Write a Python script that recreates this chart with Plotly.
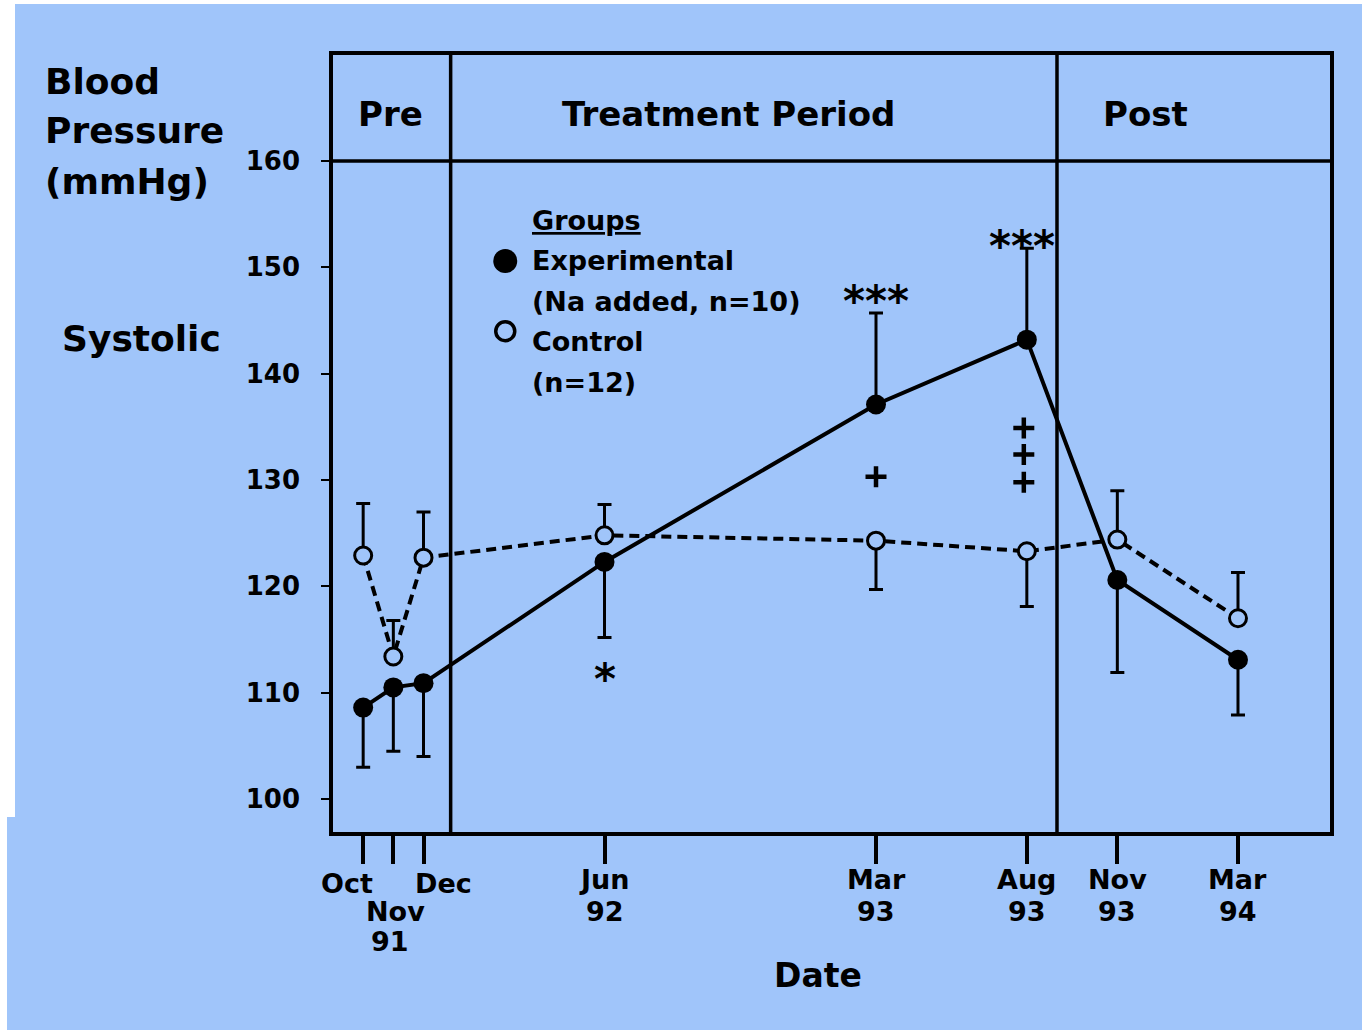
import plotly.graph_objects as go

BG = "rgb(160,197,250)"
FONT = "DejaVu Sans"
INK = "black"

# Time axis: months since October 1991
months = [0, 1, 2, 8, 17, 22, 25, 29]
tick_month = ["Oct", "Nov", "Dec", "Jun", "Mar", "Aug", "Nov", "Mar"]
tick_year = ["", "91", "", "92", "93", "93", "93", "94"]

# Systolic blood pressure (mmHg), group means and one-sided error bars
exp_mean = [108.6, 110.5, 110.9, 122.3, 137.1, 143.2, 120.6, 113.1]
exp_err_plus = [0, 0, 0, 0, 8.6, 8.6, 0, 0]
exp_err_minus = [5.6, 6.0, 6.9, 7.1, 0, 0, 8.7, 5.2]

ctl_mean = [122.9, 113.4, 122.7, 124.8, 124.3, 123.3, 124.4, 117.0]
ctl_err_plus = [4.9, 3.4, 4.3, 2.9, 0, 0, 4.6, 4.3]
ctl_err_minus = [0, 0, 0, 0, 4.6, 5.2, 0, 0]

# Study periods
period_names = ["Pre", "Treatment Period", "Post"]
period_label_x = [0.9, 12.1, 25.95]
period_bounds = [2.9, 23.0]

# Significance: asterisks (between groups) and plus signs (vs baseline)
star_x = [8, 17, 21.85]
star_y = [112.1, 147.6, 152.8]
star_text = ["*", "***", "***"]
plus_x = [17, 21.9, 21.9, 21.9]
plus_y = [130.3, 134.9, 132.4, 129.8]

X_RANGE = [-1.0, 32.05]
Y_RANGE = [96.9, 169.97]
HEADER_Y = 160

fig = go.Figure()

fig.add_trace(go.Scatter(
    x=months, y=ctl_mean, mode="lines+markers", name="Control",
    line=dict(color=INK, width=4, dash="10px,6px"),
    marker=dict(symbol="circle", size=17, color=BG, line=dict(color=INK, width=3)),
    error_y=dict(type="data", symmetric=False, array=ctl_err_plus,
                 arrayminus=ctl_err_minus, color=INK, thickness=3, width=7),
))

fig.add_trace(go.Scatter(
    x=months, y=exp_mean, mode="lines+markers", name="Experimental",
    line=dict(color=INK, width=4),
    marker=dict(symbol="circle", size=20, color=INK),
    error_y=dict(type="data", symmetric=False, array=exp_err_plus,
                 arrayminus=exp_err_minus, color=INK, thickness=3, width=7),
))

fig.add_trace(go.Scatter(
    x=plus_x, y=plus_y, mode="markers", hoverinfo="skip",
    marker=dict(symbol="cross-thin", size=15, color=INK, line=dict(color=INK, width=4.5)),
))

# Legend symbols drawn inside the plot
fig.add_trace(go.Scatter(
    x=[4.71], y=[150.6], mode="markers", hoverinfo="skip",
    marker=dict(symbol="circle", size=24, color=INK),
))
fig.add_trace(go.Scatter(
    x=[4.71], y=[144.0], mode="markers", hoverinfo="skip",
    marker=dict(symbol="circle", size=19, color=BG, line=dict(color=INK, width=3.5)),
))

ann = []

def txt(x, y, text, size, xanchor="center", yanchor="middle", xref="x", yref="y",
        xshift=0, yshift=0):
    ann.append(dict(x=x, y=y, xref=xref, yref=yref, text=f"<b>{text}</b>",
                    showarrow=False, xanchor=xanchor, yanchor=yanchor,
                    xshift=xshift, yshift=yshift,
                    font=dict(family=FONT, size=size, color=INK)))

# Legend text
legend_lines = [("<u>Groups</u>", 154.4), ("Experimental", 150.6),
                ("(Na added, n=10)", 146.8), ("Control", 143.0), ("(n=12)", 139.2)]
for t, yv in legend_lines:
    txt(5.53, yv, t, 27, xanchor="left")

# Period headers
for name, xv in zip(period_names, period_label_x):
    txt(xv, 164.4, name, 34)

# Asterisks
for xv, yv, t in zip(star_x, star_y, star_text):
    txt(xv, yv, t, 42, yshift=-9)

# Date tick labels (staggered for the closely spaced 1991 visits)
def py(p):
    return (832 - p) / 777

for i, (m, mon, yr) in enumerate(zip(months, tick_month, tick_year)):
    if i == 0:
        txt(m, py(883), mon, 27, yref="paper", xshift=-16)
    elif i == 1:
        txt(m, py(911), mon, 27, yref="paper", xshift=2)
        txt(m, py(941), yr, 27, yref="paper", xshift=-3)
    elif i == 2:
        txt(m, py(883), mon, 27, yref="paper", xshift=20)
    else:
        txt(m, py(879), mon, 27, yref="paper")
        txt(m, py(911), yr, 27, yref="paper")

# Axis titles
txt((818 - 333) / 997, py(975), "Date", 33, xref="paper", yref="paper")
px = lambda p: (p - 333) / 997
txt(px(43), py(81), "Blood", 36, xanchor="left", xref="paper", yref="paper")
txt(px(43), py(130), "Pressure", 36, xanchor="left", xref="paper", yref="paper")
txt(px(43), py(181), "(mmHg)", 36, xanchor="left", xref="paper", yref="paper")
txt(px(60), py(338), "Systolic", 36, xanchor="left", xref="paper", yref="paper")

shapes = [
    dict(type="line", xref="paper", yref="y", x0=0, x1=1, y0=HEADER_Y, y1=HEADER_Y,
         line=dict(color=INK, width=3.5)),
]
for b in period_bounds:
    shapes.append(dict(type="line", xref="x", yref="paper", x0=b, x1=b, y0=0, y1=1,
                       line=dict(color=INK, width=3.5)))
# Scan margins
shapes += [
    dict(type="rect", xref="paper", yref="paper", x0=px(0), x1=px(15), y0=py(817), y1=py(0),
         fillcolor="white", line=dict(width=0)),
    dict(type="rect", xref="paper", yref="paper", x0=px(0), x1=px(7), y0=py(1030), y1=py(817),
         fillcolor="white", line=dict(width=0)),
    dict(type="rect", xref="paper", yref="paper", x0=px(0), x1=px(1362), y0=py(4), y1=py(0),
         fillcolor="white", line=dict(width=0)),
]

fig.update_layout(
    width=1362, height=1030,
    margin=dict(l=333, r=32, t=55, b=198),
    paper_bgcolor=BG, plot_bgcolor=BG,
    showlegend=False,
    annotations=ann, shapes=shapes,
    font=dict(family=FONT, color=INK),
)
fig.update_xaxes(
    range=X_RANGE, showgrid=False, zeroline=False,
    showline=True, linecolor=INK, linewidth=3.5, mirror=True,
    tickvals=months, ticktext=[""] * len(months),
    ticks="outside", ticklen=28, tickwidth=3.5, tickcolor=INK,
)
fig.update_yaxes(
    range=Y_RANGE, showgrid=False, zeroline=False,
    showline=True, linecolor=INK, linewidth=3.5, mirror=True,
    tickvals=[100, 110, 120, 130, 140, 150, 160],
    ticks="outside", ticklen=8, tickwidth=2, tickcolor=INK,
    ticklabelstandoff=16,
    tickfont=dict(family=FONT, size=26, color=INK, weight="bold"),
)

fig.write_html("out.html")
